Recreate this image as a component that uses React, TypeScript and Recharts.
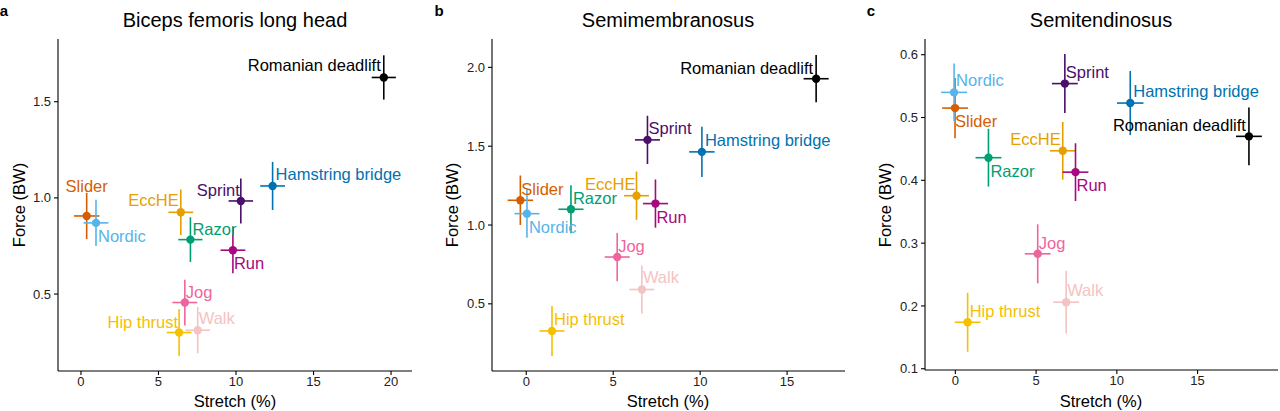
import { ScatterChart, Scatter, XAxis, YAxis, ErrorBar } from 'recharts';

const EXERCISES = [
  'Romanian deadlift',
  'Hamstring bridge',
  'Sprint',
  'Slider',
  'Nordic',
  'EccHE',
  'Razor',
  'Run',
  'Jog',
  'Hip thrust',
  'Walk',
];

// Biceps femoris long head
const BF_STRETCH = [19.53, 12.36, 10.31, 0.37, 0.97, 6.44, 7.06, 9.8, 6.7, 6.33, 7.53];
const BF_STRETCH_SE = [0.78, 0.8, 0.79, 0.82, 0.8, 0.8, 0.78, 0.8, 0.8, 0.8, 0.8];
const BF_FORCE = [1.626, 1.062, 0.984, 0.906, 0.87, 0.925, 0.783, 0.728, 0.456, 0.3, 0.312];
const BF_FORCE_SE = [0.115, 0.125, 0.117, 0.12, 0.12, 0.118, 0.116, 0.12, 0.119, 0.122, 0.12];

// Semimembranosus
const SM_STRETCH = [16.67, 10.1, 6.97, -0.34, 0.04, 6.34, 2.57, 7.43, 5.23, 1.48, 6.65];
const SM_STRETCH_SE = [0.72, 0.73, 0.72, 0.73, 0.72, 0.72, 0.72, 0.72, 0.72, 0.72, 0.72];
const SM_FORCE = [1.928, 1.464, 1.54, 1.157, 1.072, 1.186, 1.1, 1.136, 0.797, 0.328, 0.591];
const SM_FORCE_SE = [0.15, 0.16, 0.153, 0.157, 0.153, 0.153, 0.152, 0.153, 0.153, 0.159, 0.153];

// Semitendinosus
const ST_STRETCH = [18.18, 10.83, 6.78, -0.02, -0.08, 6.65, 2.05, 7.44, 5.1, 0.76, 6.86];
const ST_STRETCH_SE = [0.8, 0.82, 0.8, 0.8, 0.8, 0.8, 0.8, 0.8, 0.8, 0.8, 0.8];
const ST_FORCE = [0.47, 0.523, 0.554, 0.515, 0.54, 0.447, 0.436, 0.413, 0.283, 0.174, 0.206];
const ST_FORCE_SE = [0.046, 0.051, 0.047, 0.048, 0.046, 0.046, 0.046, 0.046, 0.047, 0.047, 0.05];

const X_TICKS_A = [0, 5, 10, 15, 20];
const X_TICKS_BC = [0, 5, 10, 15];
const Y_TICKS_A = [0.5, 1.0, 1.5];
const Y_TICKS_B = [0.5, 1.0, 1.5, 2.0];
const Y_TICKS_C = [0.1, 0.2, 0.3, 0.4, 0.5, 0.6];

const COLORS = [
  '#000000',
  '#0072B2',
  '#4A0E6B',
  '#D55E00',
  '#56B4E9',
  '#E69F00',
  '#009E73',
  '#A5087F',
  '#F0649E',
  '#F5C000',
  '#F4C3C3',
];

type Place = [number, number, 'start' | 'middle' | 'end'];

const PLACE_A: Place[] = [
  [-3, -12, 'end'], [3, -12, 'start'], [-1, -11, 'end'], [0, -30, 'middle'], [2, 13, 'start'],
  [-2, -12, 'end'], [2, -11, 'start'], [1, 13, 'start'], [1, -11, 'start'], [-1, -11, 'end'], [1, -12, 'start'],
];
const PLACE_B: Place[] = [
  [-3, -11, 'end'], [3, -12, 'start'], [1, -12, 'start'], [1, -11, 'start'], [2, 13, 'start'],
  [-1, -12, 'end'], [2, -11, 'start'], [1, 13, 'start'], [1, -11, 'start'], [2, -12, 'start'], [1, -12, 'start'],
];
const PLACE_C: Place[] = [
  [-3, -11, 'end'], [3, -12, 'start'], [1, -12, 'start'], [0, 13, 'start'], [2, -12, 'start'],
  [-2, -12, 'end'], [2, 13, 'start'], [1, 13, 'start'], [1, -11, 'start'], [2, -11, 'start'], [1, -12, 'start'],
];

const FONT = '"Liberation Sans", Arial, sans-serif';
const H = 411;

type PanelProps = {
  left: number;
  width: number;
  axisWidth: number;
  right: number;
  xAxisHeight: number;
  stretch: number[];
  stretchSe: number[];
  force: number[];
  forceSe: number[];
  xDomain: [number, number];
  yDomain: [number, number];
  xTicks: number[];
  yTicks: number[];
  place: Place[];
};

function Panel(p: PanelProps) {
  const tick = { fontSize: 13, fill: '#222', fontFamily: FONT };
  return (
    <div style={{ position: 'absolute', left: p.left, top: 0 }}>
      <ScatterChart
        width={p.width}
        height={H}
        margin={{ top: 39, right: p.right, bottom: 0, left: 0 }}
      >
        <XAxis
          type="number"
          dataKey="x"
          domain={p.xDomain}
          allowDataOverflow
          ticks={p.xTicks}
          height={p.xAxisHeight}
          tick={tick}
          tickSize={4}
          tickMargin={2}
          axisLine={{ stroke: '#000', strokeWidth: 1.1 }}
          tickLine={{ stroke: '#000', strokeWidth: 1.1 }}
        />
        <YAxis
          type="number"
          dataKey="y"
          domain={p.yDomain}
          allowDataOverflow
          ticks={p.yTicks}
          width={p.axisWidth}
          tick={tick}
          tickSize={4}
          tickMargin={3}
          tickFormatter={(v: number) => v.toFixed(1)}
          axisLine={{ stroke: '#000', strokeWidth: 1.1 }}
          tickLine={{ stroke: '#000', strokeWidth: 1.1 }}
        />
        {EXERCISES.map((name, i) => {
          const color = COLORS[i];
          const [dx, dy, anchor] = p.place[i];
          const row = [{ x: p.stretch[i], y: p.force[i], ex: p.stretchSe[i], ey: p.forceSe[i] }];
          return (
            <Scatter
              key={name}
              name={name}
              data={row}
              isAnimationActive={false}
              shape={(s: any) => (
                <g>
                  <circle cx={s.cx} cy={s.cy} r={4.2} fill={color} />
                  <text
                    x={s.cx + dx}
                    y={s.cy + dy}
                    textAnchor={anchor}
                    dominantBaseline="central"
                    fill={color}
                    fontSize={16.5}
                    fontFamily={FONT}
                  >
                    {name}
                  </text>
                </g>
              )}
            >
              <ErrorBar dataKey="ex" direction="x" width={0} stroke={color} strokeWidth={1.6} />
              <ErrorBar dataKey="ey" direction="y" width={0} stroke={color} strokeWidth={1.6} />
            </Scatter>
          );
        })}
      </ScatterChart>
    </div>
  );
}

const TITLES = [
  { letter: 'a', letterX: 4, title: 'Biceps femoris long head', cx: 235, yTitleX: 19 },
  { letter: 'b', letterX: 439, title: 'Semimembranosus', cx: 668, yTitleX: 452 },
  { letter: 'c', letterX: 871, title: 'Semitendinosus', cx: 1101, yTitleX: 885 },
];

export default function App() {
  return (
    <div style={{ position: 'absolute', left: 0, top: 0, width: 1280, height: H, background: '#fff' }}>
      <Panel
        left={0}
        width={420}
        axisWidth={58}
        right={8}
        xAxisHeight={40}
        stretch={BF_STRETCH}
        stretchSe={BF_STRETCH_SE}
        force={BF_FORCE}
        forceSe={BF_FORCE_SE}
        xDomain={[-1.48, 21.35]}
        yDomain={[0.1, 1.826]}
        xTicks={X_TICKS_A}
        yTicks={Y_TICKS_A}
        place={PLACE_A}
      />
      <Panel
        left={430}
        width={420}
        axisWidth={62}
        right={5}
        xAxisHeight={40}
        stretch={SM_STRETCH}
        stretchSe={SM_STRETCH_SE}
        force={SM_FORCE}
        forceSe={SM_FORCE_SE}
        xDomain={[-1.97, 18.33]}
        yDomain={[0.074, 2.18]}
        xTicks={X_TICKS_BC}
        yTicks={Y_TICKS_B}
        place={PLACE_B}
      />
      <Panel
        left={860}
        width={420}
        axisWidth={65}
        right={2}
        xAxisHeight={41}
        stretch={ST_STRETCH}
        stretchSe={ST_STRETCH_SE}
        force={ST_FORCE}
        forceSe={ST_FORCE_SE}
        xDomain={[-1.88, 19.98]}
        yDomain={[0.098, 0.625]}
        xTicks={X_TICKS_BC}
        yTicks={Y_TICKS_C}
        place={PLACE_C}
      />
      <svg
        width={1280}
        height={H}
        style={{ position: 'absolute', left: 0, top: 0, pointerEvents: 'none' }}
      >
        {TITLES.map((t) => (
          <g key={t.letter} fontFamily={FONT} fill="#000">
            <text x={t.letterX} y={10} fontSize={15} fontWeight="bold" dominantBaseline="central" textAnchor="middle">
              {t.letter}
            </text>
            <text x={t.cx} y={20} fontSize={20} dominantBaseline="central" textAnchor="middle">
              {t.title}
            </text>
            <text x={t.cx} y={401} fontSize={16.5} dominantBaseline="central" textAnchor="middle">
              Stretch (%)
            </text>
            <text
              x={t.yTitleX}
              y={205}
              fontSize={16.5}
              dominantBaseline="central"
              textAnchor="middle"
              transform={`rotate(-90 ${t.yTitleX} 205)`}
            >
              Force (BW)
            </text>
          </g>
        ))}
      </svg>
    </div>
  );
}
